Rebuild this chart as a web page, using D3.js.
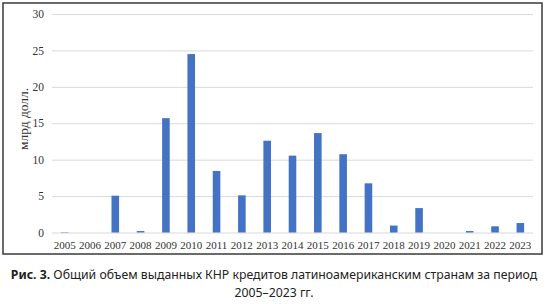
<!DOCTYPE html>
<html>
<head>
<meta charset="utf-8">
<script src="https://cdn.jsdelivr.net/npm/d3@7"></script>
<style>
  html, body { margin: 0; padding: 0; background: #fff; }
  svg { display: block; }
</style>
</head>
<body>
<div id="chart"></div>
<script>
// data
const years = ["2005","2006","2007","2008","2009","2010","2011","2012","2013","2014",
               "2015","2016","2017","2018","2019","2020","2021","2022","2023"];
const loans = [0.05, 0, 5.05, 0.2, 15.7, 24.5, 8.45, 5.1, 12.6, 10.55,
               13.65, 10.75, 6.75, 0.95, 3.35, 0, 0.2, 0.85, 1.3];
const yTicks = [0, 5, 10, 15, 20, 25, 30];
const yLabel = "млрд долл.";
const captionBold = "Рис. 3.";
const captionRest = " Общий объем выданных КНР кредитов латиноамериканским странам за период";
const captionLine2 = "2005–2023 гг.";

const width = 548, height = 304;

const svg = d3.select("#chart").append("svg")
  .attr("width", width)
  .attr("height", height);

// outer frame
svg.append("rect")
  .attr("x", 3).attr("y", 3)
  .attr("width", 539).attr("height", 251)
  .attr("fill", "none")
  .attr("stroke", "#3a3a3a")
  .attr("stroke-width", 1.5);

let x = d3.scaleBand()
  .domain(years)
  .range([52, 533])
  .paddingInner(0.7)
  .paddingOuter(0.35);

let y = d3.scaleLinear()
  .domain([0, 30])
  .range([232.5, 14]);

// gridlines + y labels
let yAxis = d3.axisLeft(y)
  .tickValues(yTicks)
  .tickSize(-(533 - 52))
  .tickPadding(8);

let gy = svg.append("g")
  .attr("transform", "translate(52,0)")
  .call(yAxis);
gy.select(".domain").remove();
gy.selectAll(".tick line").attr("stroke", "#d9d9d9").attr("stroke-width", 1);
gy.selectAll(".tick text")
  .attr("fill", "#333")
  .attr("font-family", "'Liberation Serif', 'Times New Roman', serif")
  .attr("font-size", 11.5);

// x labels
let xAxis = d3.axisBottom(x).tickSize(0).tickPadding(9);
let gx = svg.append("g")
  .attr("transform", "translate(0,232.5)")
  .call(xAxis);
gx.select(".domain").remove();
gx.selectAll(".tick text")
  .attr("fill", "#333")
  .attr("font-family", "'Liberation Serif', 'Times New Roman', serif")
  .attr("font-size", 11);

// bars
svg.append("g")
  .selectAll("rect")
  .data(years.map((d, i) => ({ year: d, value: loans[i] })))
  .enter().append("rect")
    .attr("x", d => x(d.year))
    .attr("y", d => y(d.value))
    .attr("width", x.bandwidth())
    .attr("height", d => y(0) - y(d.value))
    .attr("fill", "#4472c4");

// y axis title
svg.append("text")
  .attr("transform", "translate(28,119) rotate(-90)")
  .attr("text-anchor", "middle")
  .attr("fill", "#333")
  .attr("font-family", "'Liberation Serif', 'Times New Roman', serif")
  .attr("font-size", 12.5)
  .attr("textLength", 62)
  .attr("lengthAdjust", "spacingAndGlyphs")
  .text(yLabel);

// caption
let cap = svg.append("text")
  .attr("x", width / 2)
  .attr("y", 279)
  .attr("text-anchor", "middle")
  .attr("fill", "#222")
  .attr("font-family", "'Noto Sans', 'Open Sans', sans-serif")
  .attr("font-size", 13);
cap.append("tspan").attr("font-weight", "bold").text(captionBold);
cap.append("tspan").text(captionRest);

// squeeze the first line to the width it has in the figure
let w = cap.node().getComputedTextLength();
let target = 527;
let k = w > target ? target / w : 1;
cap.attr("transform", `translate(${width / 2},0) scale(${k},1) translate(${-width / 2},0)`);

svg.append("text")
  .attr("x", width / 2)
  .attr("y", 297)
  .attr("text-anchor", "middle")
  .attr("fill", "#222")
  .attr("font-family", "'Noto Sans', 'Open Sans', sans-serif")
  .attr("font-size", 13)
  .attr("transform", `translate(${width / 2},0) scale(${k},1) translate(${-width / 2},0)`)
  .text(captionLine2);
</script>
</body>
</html>
